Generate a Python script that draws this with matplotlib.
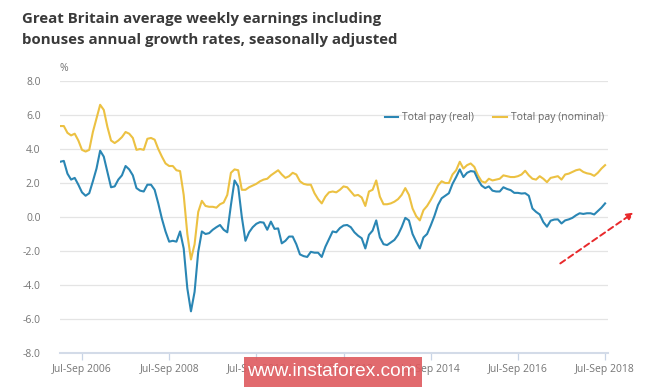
import numpy as np
import matplotlib

matplotlib.use("Agg")
import matplotlib.pyplot as plt
from matplotlib.patches import Rectangle, FancyArrowPatch

plt.rcParams["font.family"] = ["Open Sans", "DejaVu Sans"]
plt.rcParams["axes.unicode_minus"] = False

# Monthly rolling 3-month periods, Jan-Mar 2006 .. Jul-Sep 2018
tick_labels = ["Jul-Sep 2006", "Jul-Sep 2008", "Jul-Sep 2010", "Jul-Sep 2012",
               "Jul-Sep 2014", "Jul-Sep 2016", "Jul-Sep 2018"]
tick_index = [6, 30, 54, 78, 102, 126, 150]

total_pay_real = [
    3.25, 3.3, 2.55, 2.2, 2.3, 1.9, 1.45, 1.25, 1.4, 2.1,
    2.85, 3.9, 3.55, 2.65, 1.75, 1.8, 2.2, 2.45, 3.0, 2.8,
    2.45, 1.7, 1.55, 1.5, 1.9, 1.9, 1.6, 0.8, -0.1, -0.85,
    -1.45, -1.4, -1.45, -0.85, -1.85, -4.2, -5.55, -4.4, -2.05, -0.85,
    -1.0, -0.95, -0.75, -0.6, -0.47, -0.75, -0.9, 0.7, 2.15, 1.8,
    0.0, -1.4, -0.9, -0.6, -0.4, -0.3, -0.33, -0.75, -0.27, -0.7,
    -0.67, -1.55, -1.4, -1.15, -1.15, -1.6, -2.2, -2.3, -2.35, -2.05,
    -2.1, -2.1, -2.35, -1.75, -1.3, -0.85, -0.9, -0.65, -0.5, -0.47,
    -0.6, -0.9, -1.1, -1.25, -1.85, -1.05, -0.8, -0.2, -1.2, -1.6,
    -1.65, -1.5, -1.35, -1.05, -0.6, -0.05, -0.2, -1.0, -1.45, -1.85,
    -1.2, -1.0, -0.5, 0.05, 0.7, 1.1, 1.25, 1.4, 1.95, 2.35,
    2.8, 2.35, 2.6, 2.7, 2.67, 2.2, 1.85, 1.7, 1.8, 1.55,
    1.5, 1.5, 1.75, 1.65, 1.58, 1.42, 1.42, 1.38, 1.4, 1.25,
    0.5, 0.3, 0.15, -0.3, -0.57, -0.22, -0.15, -0.14, -0.38, -0.2,
    -0.14, -0.05, 0.1, 0.22, 0.18, 0.22, 0.22, 0.15, 0.35, 0.55,
    0.8,
]

total_pay_nominal = [
    5.35, 5.35, 4.95, 4.8, 4.9, 4.5, 3.95, 3.85, 3.95, 5.0,
    5.8, 6.6, 6.3, 5.3, 4.5, 4.35, 4.5, 4.7, 5.0, 4.9,
    4.65, 3.95, 4.0, 3.95, 4.6, 4.65, 4.55, 4.0, 3.55, 3.15,
    3.0, 3.0, 2.75, 2.7, 1.3, -1.0, -2.5, -1.6, 0.3, 0.95,
    0.65, 0.6, 0.6, 0.55, 0.75, 0.85, 1.3, 2.6, 2.8, 2.75,
    1.6, 1.6, 1.75, 1.85, 1.95, 2.1, 2.2, 2.25, 2.45, 2.6,
    2.75, 2.5, 2.3, 2.4, 2.6, 2.5, 2.1, 1.95, 1.9, 1.9,
    1.4, 1.05, 0.8, 1.2, 1.45, 1.5, 1.45, 1.6, 1.8, 1.75,
    1.5, 1.25, 1.3, 1.15, 0.65, 1.5, 1.6, 2.15, 1.2, 0.75,
    0.75, 0.8, 0.9, 1.05, 1.3, 1.7, 1.3, 0.5, 0.05, -0.2,
    0.4, 0.65, 1.0, 1.4, 1.85, 2.1, 2.0, 2.0, 2.5, 2.75,
    3.25, 2.85, 3.05, 3.15, 2.95, 2.45, 2.1, 2.02, 2.25, 2.15,
    2.2, 2.25, 2.45, 2.4, 2.35, 2.35, 2.4, 2.5, 2.72, 2.45,
    2.25, 2.2, 2.4, 2.25, 2.05, 2.3, 2.35, 2.4, 2.2, 2.5,
    2.55, 2.65, 2.75, 2.8, 2.65, 2.57, 2.53, 2.42, 2.6, 2.85,
    3.05,
]

y_ticks = [-8, -6, -4, -2, 0, 2, 4, 6, 8]

BLUE = "#2a86b4"
YELLOW = "#ecc142"

fig = plt.figure(figsize=(6.65, 3.88), dpi=100)
ax = fig.add_axes([60 / 665, 1 - 353 / 388, 548 / 665, 272 / 388])

x = np.arange(len(total_pay_real))
ax.plot(x, total_pay_real, color=BLUE, lw=1.5, label="Total pay (real)", zorder=3)
ax.plot(x, total_pay_nominal, color=YELLOW, lw=1.5, label="Total pay (nominal)", zorder=2)

ax.set_xlim(-0.05, 150.8)
ax.set_ylim(-8, 8)
ax.set_yticks(y_ticks)
ax.set_yticklabels([f"{v:.1f}" for v in y_ticks])
ax.set_xticks(tick_index)
ax.set_xticklabels(tick_labels)
ax.grid(axis="y", color="#e4e4e4", lw=0.9)
ax.set_axisbelow(True)

for s in ["top", "right", "left"]:
    ax.spines[s].set_visible(False)
ax.spines["bottom"].set_color("#d3dbe8")
ax.spines["bottom"].set_linewidth(1.5)
ax.tick_params(axis="y", length=0, pad=14, labelsize=7.5, labelcolor="#757575")
ax.tick_params(axis="x", length=5, width=0.9, color="#c8d4e6", pad=3,
               labelsize=7.5, labelcolor="#757575")

ax.text(0.0, 1.025, "%", transform=ax.transAxes, fontsize=7.5, color="#757575",
        ha="left", va="bottom")

leg = ax.legend(loc="upper right", bbox_to_anchor=(1.0, 0.9), ncol=2, frameon=False,
                fontsize=7.5, handlelength=1.3, handletextpad=0.4, columnspacing=1.8,
                borderaxespad=0.0)
for t in leg.get_texts():
    t.set_color("#666666")

fig.text(22 / 665, 1 - 23 / 388, "Great Britain average weekly earnings including",
         fontsize=10.8, fontweight="bold", color="#3a3a3a", ha="left", va="baseline")
fig.text(22 / 665, 1 - 44 / 388, "bonuses annual growth rates, seasonally adjusted",
         fontsize=10.8, fontweight="bold", color="#3a3a3a", ha="left", va="baseline")

# watermark
fig.patches.append(Rectangle((244 / 665, 1 - 387 / 388), 178 / 665, 30 / 388,
                             transform=fig.transFigure, facecolor="#de5a5e",
                             alpha=0.9, edgecolor="none", zorder=5))
fig.text(332 / 665, 1 - 372 / 388, "www.instaforex.com", fontsize=13.8,
         family=["Liberation Sans", "DejaVu Sans"], color="white",
         ha="center", va="center", zorder=6)

# red dashed arrow
arrow = FancyArrowPatch((558 / 665, 1 - 265 / 388), (636 / 665, 1 - 211 / 388),
                        transform=fig.transFigure, arrowstyle="-|>", mutation_scale=10,
                        color="#e8292b", lw=1.4, linestyle=(0, (3, 2)))
fig.patches.append(arrow)

fig.savefig("out.png", dpi=100)
